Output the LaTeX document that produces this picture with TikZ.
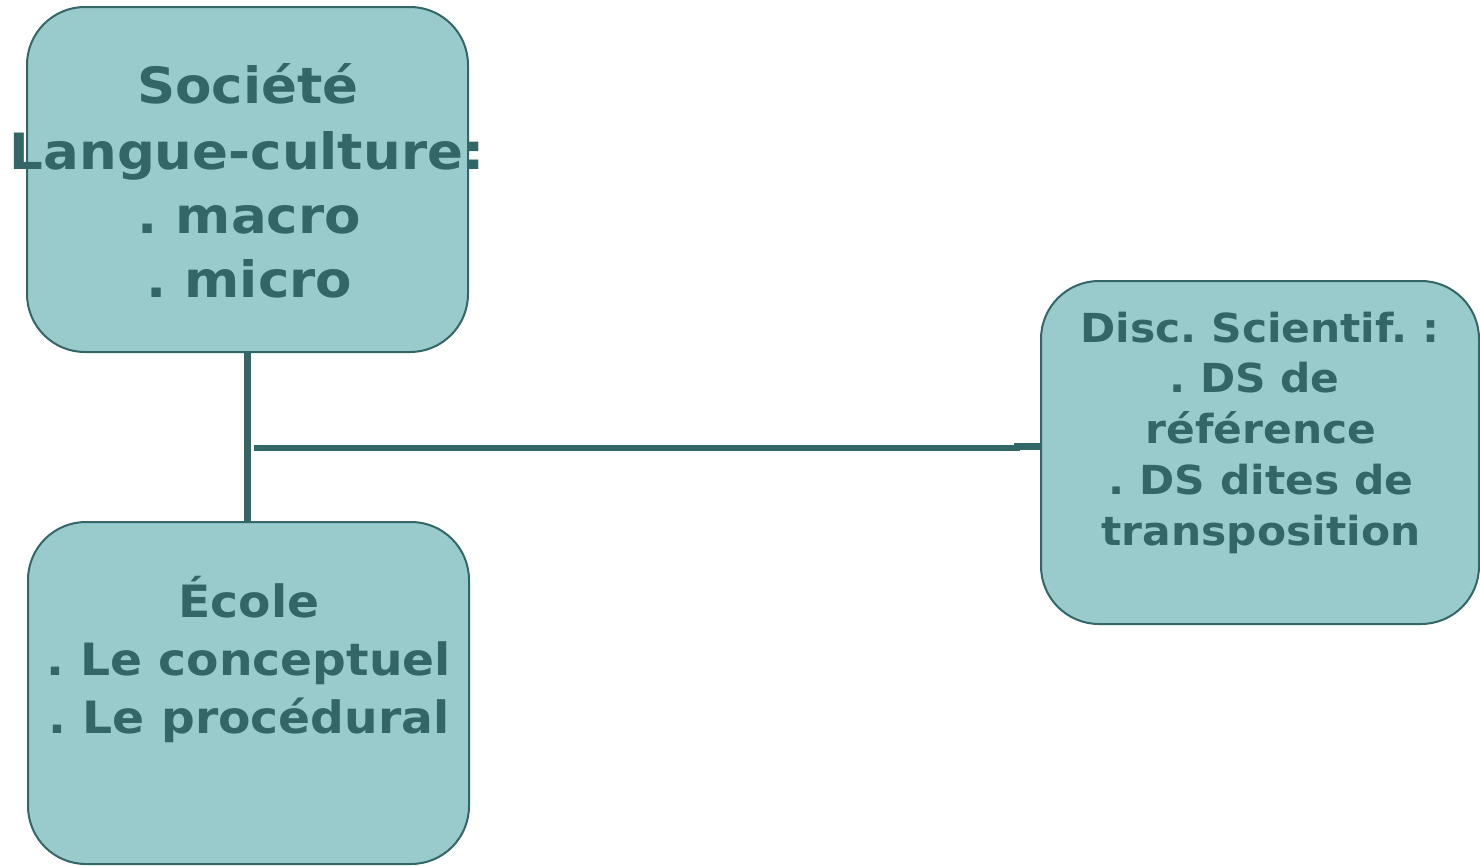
\documentclass[tikz,border=0pt]{standalone}
\usepackage{fontspec}
\newfontfamily\dvs{DejaVu Sans}[FakeStretch=1.06]
\definecolor{boxfill}{HTML}{9ACBCC}
\definecolor{ink}{HTML}{336666}
\frenchspacing
\begin{document}
\begin{tikzpicture}[x=1pt,y=-1pt,
  box/.style={draw=ink, fill=boxfill, line width=2pt, rounded corners=58pt, inner sep=0pt},
  link/.style={draw=ink, line width=6.5pt},
  txt/.style={text=ink, anchor=base, inner sep=0pt, font=\dvs\bfseries}
]
\useasboundingbox (0,0) rectangle (1480,865);
% boxes
\node[box, minimum width=441pt, minimum height=345pt] (b1) at (247.5,179.5) {};
\node[box, minimum width=441pt, minimum height=342pt] (b2) at (248.5,693) {};
\node[box, minimum width=438pt, minimum height=343pt] (b3) at (1260,452.5) {};
% connectors
\draw[link] (b1.south -| 247.5,0) -- (b2.north -| 247.5,0);
\coordinate (h1) at (254,448);
\coordinate (h2) at (1020,448);
\draw[link] (h1) -- (h2);
\coordinate (s1) at (1014,446.7);
\draw[link] (s1) -- (s1 -| b3.west);
% texts box 1
\begin{scope}[txt/.append style={font=\fontsize{50}{60}\dvs\bfseries\frenchspacing}]
\node[txt] (t1a) at (248,103) {Société};
\node[txt] (t1b) at (247,169) {Langue-culture:};
\node[txt] (t1c) at (249,233) {. macro};
\node[txt] (t1d) at (249,297) {. micro};
\end{scope}
% texts box 2
\begin{scope}[txt/.append style={font=\fontsize{44.5}{54}\dvs\bfseries\frenchspacing}]
\node[txt] (t2a) at (249,617) {École};
\node[txt] (t2b) at (248.5,675) {. Le conceptuel};
\node[txt] (t2c) at (249,733) {. Le procédural};
\end{scope}
% texts box 3
\begin{scope}[txt/.append style={font=\fontsize{40}{48}\dvs\bfseries\frenchspacing}]
\node[txt] (t3a) at (1260,342) {Disc. Scientif. :};
\node[txt] (t3b) at (1254.5,392) {. DS de};
\node[txt] (t3c) at (1261,443) {référence};
\node[txt] (t3d) at (1261,494) {. DS dites de};
\node[txt] (t3e) at (1261,545) {transposition};
\end{scope}
\end{tikzpicture}
\end{document}
